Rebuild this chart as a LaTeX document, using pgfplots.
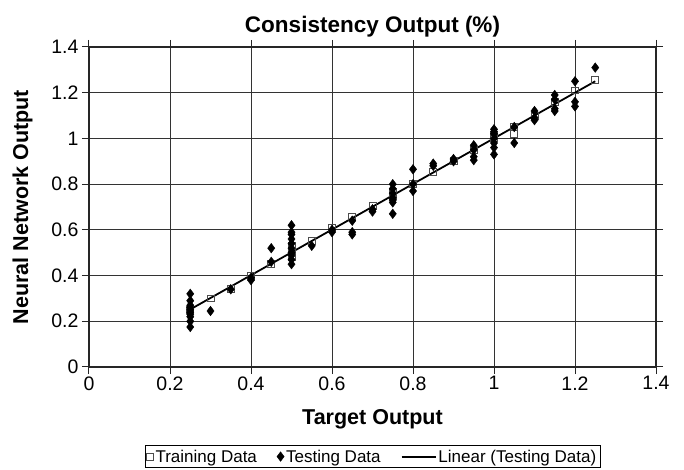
\documentclass[border=0pt]{standalone}
\usepackage{pgfplots}
\pgfplotsset{compat=1.18}
\usepackage{fontspec}
\setmainfont{Liberation Sans}
\begin{document}
\begin{tikzpicture}
\begin{axis}[
  at={(0pt,0pt)}, anchor=south west,
  scale only axis, width=567pt, height=320pt,
  xmin=0, xmax=1.4, ymin=0, ymax=1.4,
  xtick={0,0.2,...,1.4}, ytick={0,0.2,...,1.4},
  xticklabels={0,0.2,0.4,0.6,0.8,1,1.2,1.4},
  yticklabels={0,0.2,0.4,0.6,0.8,1,1.2,1.4},
  grid=major, major grid style={black!80, line width=0.9pt},
  axis line style={black!85, line width=1.2pt},
  tick align=outside, major tick length=7pt, tick style={black!85, line width=1pt},
  tick label style={font=\fontsize{19.5}{21}\selectfont},
  xticklabel style={yshift=1pt},
  yticklabel style={xshift=0pt},
  /pgf/number format/assume math mode=true,
  title={\bfseries Consistency Output (\%)},
  title style={font=\fontsize{22.5}{25}\selectfont, yshift=0pt},
  xlabel={\bfseries Target Output}, ylabel={\bfseries Neural Network Output},
  label style={font=\fontsize{21.5}{24}\selectfont},
  xlabel style={yshift=-12pt},
  ylabel style={yshift=12pt},
  legend style={at={(0.5,-0.28)}, anchor=center, draw=black,
    font=\fontsize{17}{19}\selectfont, legend columns=3,
    /tikz/every even column/.append style={column sep=18pt}, inner sep=2pt},
  legend cell align=left,
]
\addplot[only marks, mark=square, mark size=3.4pt, mark options={draw=black!70, fill=white, line width=0.8pt}] coordinates {
(0.25,0.25)(0.3,0.30)(0.35,0.34)(0.4,0.40)(0.45,0.45)(0.5,0.50)(0.5,0.48)(0.5,0.53)
(0.55,0.55)(0.6,0.61)(0.65,0.655)(0.7,0.705)(0.75,0.75)(0.75,0.765)(0.8,0.80)
(0.85,0.855)(0.9,0.90)(0.95,0.95)(1.0,1.0)(1.0,1.01)(1.05,1.02)(1.05,1.05)
(1.1,1.10)(1.15,1.16)(1.2,1.21)(1.25,1.255)
};
\addlegendentry{Training Data}
\addplot[only marks, mark=diamond*, mark size=4.8pt, mark options={draw=black, fill=black}] coordinates {
(0.25,0.32)(0.25,0.29)(0.25,0.27)(0.25,0.26)(0.25,0.25)(0.25,0.24)(0.25,0.23)(0.25,0.22)(0.25,0.20)(0.25,0.175)
(0.3,0.245)(0.35,0.34)(0.4,0.38)(0.4,0.39)(0.45,0.52)(0.45,0.46)
(0.5,0.62)(0.5,0.59)(0.5,0.58)(0.5,0.56)(0.5,0.54)(0.5,0.52)(0.5,0.50)(0.5,0.49)(0.5,0.47)(0.5,0.45)
(0.55,0.53)(0.6,0.59)(0.6,0.60)(0.65,0.64)(0.65,0.59)(0.65,0.58)(0.7,0.69)(0.7,0.68)
(0.75,0.80)(0.75,0.78)(0.75,0.76)(0.75,0.74)(0.75,0.73)(0.75,0.72)(0.75,0.67)
(0.8,0.865)(0.8,0.80)(0.8,0.77)(0.85,0.89)(0.85,0.88)(0.9,0.91)(0.9,0.90)
(0.95,0.97)(0.95,0.95)(0.95,0.92)(0.95,0.905)
(1.0,1.04)(1.0,1.03)(1.0,1.02)(1.0,1.00)(1.0,0.98)(1.0,0.96)(1.0,0.93)
(1.05,0.98)(1.05,1.05)(1.1,1.12)(1.1,1.09)(1.1,1.08)
(1.15,1.19)(1.15,1.17)(1.15,1.13)(1.15,1.12)(1.2,1.25)(1.2,1.16)(1.2,1.14)(1.25,1.31)
};
\addlegendentry{Testing Data}
\addplot[black, line width=1.8pt, no marks,
  legend image code/.code={\draw[black, line width=1.8pt] (0pt,0pt) -- (34pt,0pt);}]
  coordinates {(0.25,0.252)(1.25,1.25)};
\addlegendentry{Linear (Testing Data)}
\end{axis}
\pgfresetboundingbox
\path (-89pt,-103pt) rectangle (595pt,367pt);
\end{tikzpicture}
\end{document}
